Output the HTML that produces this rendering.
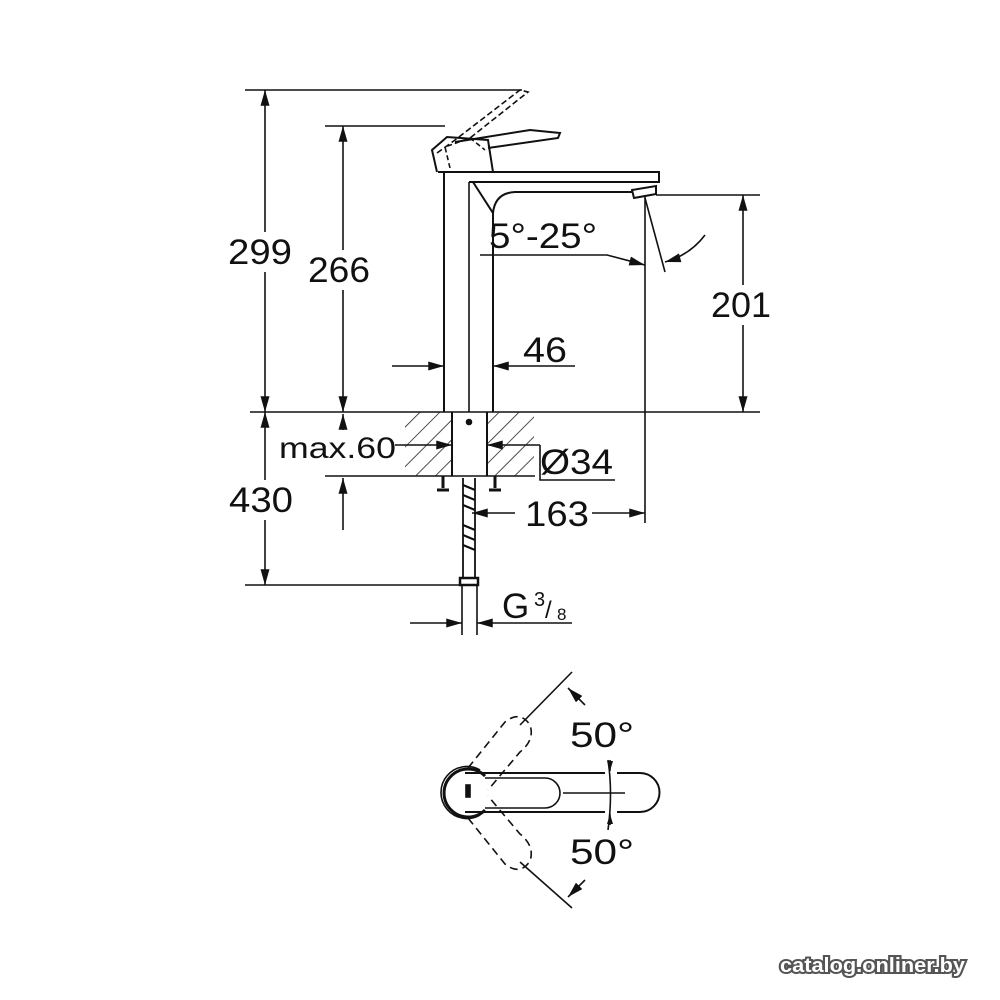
<!DOCTYPE html>
<html><head><meta charset="utf-8"><style>
html,body{margin:0;padding:0;background:#fff}
svg{display:block}
text{font-family:"Liberation Sans",sans-serif;fill:#111}
</style></head><body>
<svg width="1000" height="1000" viewBox="0 0 1000 1000" xmlns="http://www.w3.org/2000/svg">
<defs>
<marker id="a" viewBox="0 0 10 6" refX="10" refY="3" markerWidth="10" markerHeight="6" markerUnits="userSpaceOnUse" orient="auto"><path d="M0,0L10,3L0,6Z" fill="#111"/></marker>
<marker id="b" viewBox="0 0 14 8" refX="14" refY="4" markerWidth="16" markerHeight="9" markerUnits="userSpaceOnUse" orient="auto"><path d="M0,0L14,4L0,8Z" fill="#111"/></marker>
<pattern id="h" width="14" height="14" patternUnits="userSpaceOnUse" patternTransform="rotate(45)"><line x1="0" y1="0" x2="0" y2="14" stroke="#222" stroke-width="1.6"/></pattern>
</defs>
<g stroke="#111" stroke-width="1.6" fill="none">
<line x1="245" y1="90" x2="522" y2="90"/>
<line x1="325" y1="126" x2="445" y2="126"/>
<line x1="656" y1="195" x2="760" y2="195"/>
<line x1="250" y1="412" x2="760" y2="412"/>
<line x1="325" y1="476" x2="535" y2="476"/>
<line x1="245" y1="585" x2="462" y2="585"/>
<line x1="265" y1="232" x2="265" y2="90" marker-end="url(#b)"/>
<line x1="265" y1="272" x2="265" y2="412" marker-end="url(#b)"/>
<line x1="343" y1="250" x2="343" y2="126" marker-end="url(#b)"/>
<line x1="343" y1="290" x2="343" y2="412" marker-end="url(#b)"/>
<line x1="265" y1="480" x2="265" y2="412" marker-end="url(#b)"/>
<line x1="265" y1="520" x2="265" y2="585" marker-end="url(#b)"/>
<line x1="343" y1="430" x2="343" y2="414" marker-end="url(#b)"/>
<line x1="343" y1="530" x2="343" y2="478" marker-end="url(#b)"/>
<line x1="743" y1="285" x2="743" y2="195" marker-end="url(#b)"/>
<line x1="743" y1="325" x2="743" y2="412" marker-end="url(#b)"/>
<line x1="444" y1="172" x2="444" y2="412" stroke-width="2"/>
<line x1="469" y1="182" x2="469" y2="412"/>
<line x1="493" y1="213" x2="493" y2="412" stroke-width="2"/>
<path d="M438,172H659V182H469" stroke-width="2"/>
<path d="M473,182L493,213Q495,193 515,192H632" stroke-width="2"/>
<path d="M632,190L656,186L656,194L634,198Z" stroke-width="2"/>
<path d="M437,172L432,150L447,137L488,140L493,172" stroke-width="2"/>
<path d="M455,142L530,130L560,133L558,138L488,148" stroke-width="2"/>
<path d="M450,168L445,147L470,138L485,150" stroke-dasharray="5,3"/>
<path d="M437,153L455,140L520,90L528,92L470,138" stroke-dasharray="6,3"/>
<line x1="392" y1="366" x2="444" y2="366" marker-end="url(#b)"/>
<line x1="575" y1="366" x2="493" y2="366" marker-end="url(#b)"/>
<path d="M480,255H607L645,265" marker-end="url(#b)"/>
<line x1="645" y1="197" x2="645" y2="523"/>
<line x1="645" y1="198" x2="665" y2="272"/>
<path d="M705,235Q690,255 665,262" marker-end="url(#b)"/>
<rect x="405" y="412" width="47" height="64" fill="url(#h)" stroke="none"/>
<rect x="487" y="412" width="47" height="64" fill="url(#h)" stroke="none"/>
<path d="M452,412V476M487,412V476" stroke-width="2"/>
<circle cx="469" cy="422" r="2.5" fill="#111"/>
<line x1="395" y1="445" x2="452" y2="445" marker-end="url(#b)"/>
<line x1="540" y1="445" x2="487" y2="445" marker-end="url(#b)"/>
<path d="M540,445V480H615"/>
<path d="M443,476V488M437,490H449M495,476V488M489,490H501" stroke-width="3"/>
<path d="M463,478V578M475,478V578" stroke-width="1.8"/>
<path d="M463,485L475,490M463,495L475,500M463,505L475,510M463,525L475,530M463,535L475,540M463,545L475,550" stroke-width="2.2"/>
<rect x="460" y="578" width="18" height="7" stroke-width="2.5"/>
<path d="M462,585V635M477,585V635"/>
<line x1="515" y1="513" x2="472" y2="513" marker-end="url(#b)"/>
<line x1="592" y1="513" x2="645" y2="513" marker-end="url(#b)"/>
<line x1="410" y1="623" x2="462" y2="623" marker-end="url(#b)"/>
<line x1="572" y1="623" x2="477" y2="623" marker-end="url(#b)"/>
<path d="M465,773H605M617,773H640A19.5,19.5 0 0 1 640,812H617M605,812H465" stroke-width="2"/>
<path d="M485,778H545A15,15 0 0 1 545,808H485"/>
<path d="M485,776A24,24 0 1 0 485,810" stroke-width="3"/>
<path d="M480,770A26,26 0 1 0 480,815"/>
<rect x="466" y="785" width="4" height="12" fill="#111"/>
<line x1="563" y1="793" x2="625" y2="793"/>
<path d="M608,760Q613,793 608,830"/>
<line x1="610" y1="760" x2="610" y2="771" marker-end="url(#a)"/>
<line x1="610" y1="825" x2="610" y2="814" marker-end="url(#a)"/>
<g stroke-dasharray="8,5">
<path d="M468,768L505,722Q520,710 530,725Q535,740 520,752L488,790"/>
<path d="M468,818L505,864Q520,876 530,861Q535,846 520,834L488,796"/>
</g>
<line x1="520" y1="725" x2="572" y2="672"/>
<line x1="520" y1="862" x2="572" y2="908"/>
<line x1="585" y1="705" x2="568" y2="688" marker-end="url(#b)"/>
<line x1="585" y1="880" x2="568" y2="897" marker-end="url(#b)"/>
</g>
<g font-size="35">
<text x="228" y="264" textLength="64" lengthAdjust="spacingAndGlyphs">299</text>
<text x="308" y="282" textLength="62" lengthAdjust="spacingAndGlyphs">266</text>
<text x="711" y="317" textLength="60" lengthAdjust="spacingAndGlyphs">201</text>
<text x="523" y="362" textLength="44" lengthAdjust="spacingAndGlyphs">46</text>
<text x="489" y="248" textLength="108" lengthAdjust="spacingAndGlyphs">5°-25°</text>
<text x="229" y="512" textLength="64" lengthAdjust="spacingAndGlyphs">430</text>
<text x="525" y="526" textLength="64" lengthAdjust="spacingAndGlyphs">163</text>
<text x="540" y="474" textLength="73" lengthAdjust="spacingAndGlyphs">Ø34</text>
<text x="279" y="458" font-size="30" textLength="117" lengthAdjust="spacingAndGlyphs">max.60</text>
<text x="502" y="618">G</text>
<text x="534" y="606" font-size="20">3</text>
<text x="545" y="618" font-size="24">/</text>
<text x="557" y="620" font-size="17">8</text>
<text x="570" y="747" textLength="64" lengthAdjust="spacingAndGlyphs">50°</text>
<text x="570" y="864" textLength="64" lengthAdjust="spacingAndGlyphs">50°</text>
</g>
<text x="780" y="972" font-size="20" font-weight="bold" textLength="185" lengthAdjust="spacingAndGlyphs" style="fill:#fff;stroke:#555;stroke-width:4;paint-order:stroke">catalog.onliner.by</text>
</svg>
</body></html>
